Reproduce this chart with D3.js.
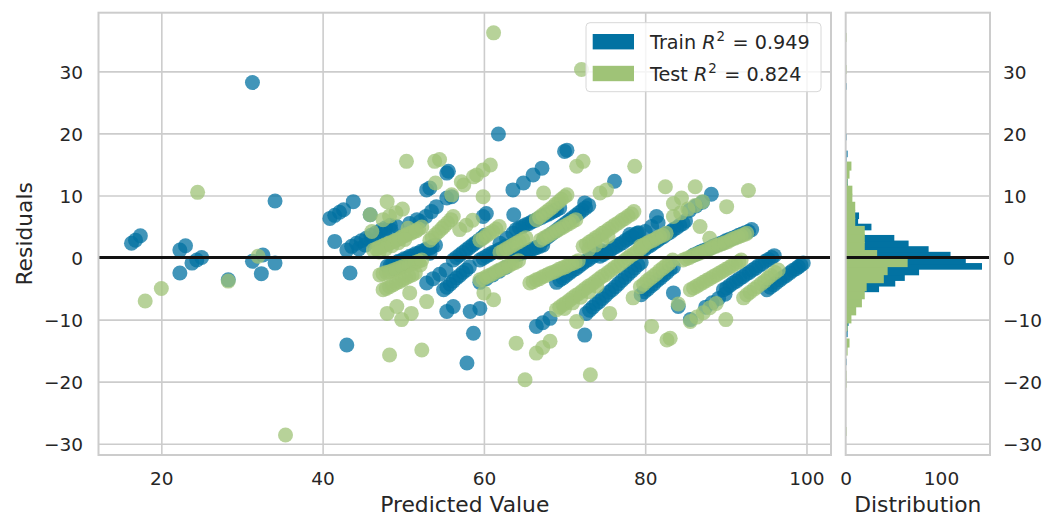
<!DOCTYPE html>
<html>
<head>
<meta charset="utf-8">
<script src="https://cdn.jsdelivr.net/npm/d3@7"></script>
<style>
  body { margin: 0; background: #fff; }
  text { font-family: "DejaVu Sans", sans-serif; fill: #262626; }
</style>
</head>
<body>
<div id="chart"></div>
<script>
// residuals: [predicted value, residual]
var trainPoints = [
  [16.3,2.3],[16.8,2.8],[17.4,3.5],
  [22.3,1.2],[23.0,1.9],[22.3,-2.5],[23.8,-0.9],[24.4,-0.4],[25.0,0.0],
  [28.3,-3.6],[31.3,28.2],[31.3,-0.6],[32.6,0.4],[32.4,-2.6],[34.1,-0.9],[34.1,9.1],
  [43.0,-14.1],[43.4,-2.5],[41.5,2.6],
  [40.9,6.3],[41.5,6.8],[42.1,7.3],[42.6,7.7],[43.8,9.0],
  [43.0,1.2],[43.6,1.8],[44.2,2.3],[44.8,2.7],[45.4,3.1],[46.0,3.6],[46.6,4.0],[47.2,4.4],[47.8,4.8],[48.4,5.2],
  [44.5,1.4],[45.3,2.0],[46.1,2.6],[46.9,3.2],[47.7,3.8],[48.5,4.4],[49.2,5.0],
  [45.9,6.9],
  [52.1,5.8],[52.8,6.6],[53.5,7.4],[54.1,8.2],
  [52.9,10.9],[53.3,11.2],[55.4,13.6],[55.6,13.9],[55.4,9.6],[56.0,9.8],
  [50.8,5.5],[51.7,6.1],
  [48.0,-1.4],[48.7,-1.0],[49.4,-0.6],[50.1,-0.2],[50.8,0.2],[51.5,0.6],[52.2,1.0],[52.9,1.4],[53.6,1.8],
  [48.4,-1.3],[49.1,-0.9],[49.8,-0.5],[50.5,-0.1],[51.2,0.3],[51.9,0.7],[52.6,1.1],[53.3,1.5],[54.0,2.0],
  [48.6,-1.8],[49.4,-1.3],[50.2,-0.8],[51.0,-0.4],
  [53.3,0.7],
  [52.9,-4.1],[53.7,-3.4],[54.5,-2.7],[55.3,-2.0],
  [55.0,-5.2],[55.8,-4.3],[56.6,-3.3],[57.4,-2.4],[58.2,-1.5],
  [55.4,-4.8],[56.2,-3.8],[57.0,-2.9],[57.8,-2.0],
  [55.4,-8.7],[56.2,-7.9],[58.3,-8.7],[58.7,-12.2],[57.9,-17.0],
  [56.2,-0.4],[57.0,0.4],[57.8,1.2],[58.6,2.0],[59.4,2.8],[60.1,3.6],
  [56.6,0.0],[57.4,0.8],[58.2,1.6],[59.0,2.4],[59.8,3.2],
  [59.9,6.6],[60.3,7.1],[63.7,6.9],
  [63.6,10.9],[64.9,12.0],[66.1,13.3],[67.2,14.4],
  [64.0,4.5],[64.8,5.0],[65.6,5.5],[66.4,6.0],[67.2,6.5],[68.0,7.0],[68.7,7.5],[69.4,8.0],
  [64.4,4.8],[65.2,5.3],[66.0,5.8],[66.8,6.3],[67.6,6.8],[68.4,7.3],[69.0,7.7],
  [67.4,2.8],[68.2,3.6],[69.0,4.4],[69.8,5.2],[70.6,6.0],[71.4,6.8],[72.2,7.6],[73.0,8.4],
  [67.8,3.2],[68.6,4.0],[69.4,4.8],[70.2,5.6],[71.0,6.4],[71.8,7.2],[72.6,8.0],
  [62.0,2.3],[62.8,3.1],[63.6,3.9],
  [59.5,-0.4],[60.3,0.2],[61.1,0.8],[61.9,1.3],[62.7,1.8],
  [59.9,-0.1],[60.7,0.5],[61.5,1.0],[62.3,1.5],
  [63.7,0.2],[64.5,0.6],[65.3,1.0],[66.1,1.4],[66.9,1.8],
  [64.1,0.4],[64.9,0.8],[65.7,1.2],[66.5,1.6],[67.3,2.0],
  [59.5,-4.0],[60.3,-3.4],[61.1,-2.8],[61.9,-2.2],[62.7,-1.6],
  [72.7,-9.0],[73.5,-8.0],[74.3,-7.1],[75.1,-6.1],[75.9,-5.2],[76.7,-4.2],[77.5,-3.2],[78.3,-2.2],[79.1,-1.2],
  [73.1,-8.5],[73.9,-7.5],[74.7,-6.6],[75.5,-5.6],[76.3,-4.7],[77.1,-3.7],[77.9,-2.7],[78.7,-1.7],[79.5,-0.8],
  [66.5,-11.1],[67.3,-10.5],[68.2,-9.8],[72.5,-12.5],
  [69.0,-4.0],[69.8,-3.3],[70.6,-2.5],[71.4,-1.8],[72.2,-1.0],[73.0,-0.3],[73.8,0.4],[74.6,1.1],
  [69.4,-3.6],[70.2,-2.9],[71.0,-2.1],[71.8,-1.4],[72.6,-0.6],[73.4,0.1],[74.2,0.8],
  [74.4,0.2],[75.2,0.8],[76.0,1.5],[76.8,2.1],[77.6,2.8],[78.4,3.4],[79.2,4.0],
  [74.8,0.5],[75.6,1.1],[76.4,1.8],[77.2,2.4],[78.0,3.1],[78.8,3.7],
  [78.1,3.7],[79.0,3.9],[72.5,8.8],[76.2,12.3],
  [70.0,17.1],[70.3,17.3],[61.8,19.9],
  [59.5,-8.2],
  [81.4,6.6],[88.2,10.2],
  [79.5,1.0],[80.3,1.7],[81.1,2.4],[81.9,3.1],[82.7,3.8],[83.5,4.5],[84.3,5.2],[85.0,5.9],
  [79.9,1.3],[80.7,2.0],[81.5,2.7],[82.3,3.4],[83.1,4.1],[83.9,4.8],[84.7,5.5],
  [80.0,4.2],[80.8,5.0],[81.6,5.6],
  [85.5,7.6],[86.3,8.3],[87.1,8.9],
  [86.0,0.4],[86.8,0.9],[87.6,1.3],[88.4,1.8],[89.2,2.2],[90.0,2.7],[90.8,3.1],[91.6,3.6],[92.4,4.0],[93.2,4.5],
  [86.4,0.6],[87.2,1.1],[88.0,1.5],[88.8,2.0],[89.6,2.4],[90.4,2.9],[91.2,3.3],[92.0,3.8],[92.8,4.2],
  [89.7,-5.2],[90.5,-4.5],[91.3,-3.8],[92.1,-3.1],[92.9,-2.4],[93.7,-1.7],[94.5,-1.0],[95.3,-0.3],[96.0,0.3],
  [90.1,-4.9],[90.9,-4.1],[91.7,-3.4],[92.5,-2.7],[93.3,-2.0],[94.1,-1.3],[94.9,-0.6],[95.7,0.0],
  [95.1,-5.2],[95.9,-4.4],[96.7,-3.6],[97.5,-2.9],[98.3,-2.1],[99.0,-1.5],[99.6,-0.9],
  [95.5,-4.8],[96.3,-4.0],[97.1,-3.2],[97.9,-2.5],[98.7,-1.8],[99.3,-1.2],
  [83.5,-5.7],[84.1,-7.9],[85.6,-10.0],
  [79.5,-6.0],[80.3,-5.1],[81.1,-4.2],[81.9,-3.3],[82.7,-2.4],[83.5,-1.5],
  [79.9,-5.5],[80.7,-4.6],[81.5,-3.7],[82.3,-2.8],[83.1,-1.9],
  [87.5,-8.0],[88.3,-7.3],[89.1,-6.6],[89.9,-5.9]
];

var testPoints = [
  [18.0,-7.0],[20.0,-5.0],[24.5,10.5],[28.3,-3.8],[32.0,0.2],[35.4,-28.6],[48.3,-15.7],[52.3,-14.9],
  [50.4,15.5],[53.9,15.5],[54.5,15.8],[54.0,12.0],[57.2,12.2],[59.1,13.3],[59.9,14.1],[60.8,14.9],
  [61.2,36.2],[72.1,30.3],
  [48.0,9.0],[45.9,6.9],[46.1,4.2],
  [47.5,6.1],[48.3,6.7],[49.1,7.2],[49.9,7.8],
  [46.3,1.2],[47.0,1.6],[47.7,2.0],[48.4,2.4],[49.1,2.8],[49.8,3.3],[50.5,3.7],[51.2,4.1],[51.9,4.6],[50.6,4.7],
  [46.7,1.4],[47.4,1.8],[48.1,2.2],[48.8,2.6],[49.5,3.0],[50.2,3.5],[50.9,3.9],[51.6,4.3],[52.3,4.9],
  [47.0,0.9],[47.8,1.4],[48.6,1.9],[49.4,2.4],[50.2,2.9],
  [53.3,2.8],[54.0,3.7],[54.8,4.7],[55.5,5.6],[56.2,6.6],
  [53.6,3.2],[54.4,4.2],[55.1,5.1],[55.9,6.1],
  [56.0,10.1],[57.5,11.7],[58.7,13.0],
  [52.1,-1.2],
  [47.1,-2.8],[47.9,-2.4],[48.7,-2.1],[49.5,-1.7],[50.3,-1.3],[51.1,-1.0],[51.9,-0.6],
  [47.5,-2.6],[48.3,-2.3],[49.1,-1.9],[49.9,-1.5],[50.7,-1.2],[51.5,-0.8],[52.3,-0.4],
  [47.5,-5.2],[48.3,-4.7],[49.1,-4.1],[49.9,-3.6],[50.7,-3.0],[51.5,-2.5],
  [47.9,-5.0],[48.7,-4.4],[49.5,-3.9],[50.3,-3.3],[51.1,-2.8],
  [50.8,-5.7],[52.9,-7.1],[48.0,-9.0],[49.2,-7.9],[49.8,-10.0],[51.0,-9.0],
  [57.0,4.5],[57.8,5.2],[58.6,6.0],
  [59.5,2.8],[60.3,3.5],[61.1,4.2],[61.9,5.0],
  [59.9,3.1],[60.7,3.9],[61.5,4.6],
  [62.0,0.8],[62.8,1.4],[63.6,2.0],[64.4,2.6],[65.2,3.2],
  [62.4,1.1],[63.2,1.7],[64.0,2.3],[64.8,2.9],
  [59.9,9.8],[67.4,10.4],
  [66.5,6.1],[67.3,6.9],[68.1,7.7],[68.9,8.6],[69.6,9.4],[70.3,10.1],
  [66.9,6.5],[67.7,7.3],[68.5,8.1],[69.3,9.0],[70.0,9.8],
  [67.0,2.8],[67.8,3.4],[68.6,4.0],[69.4,4.6],[70.2,5.2],[71.0,5.8],
  [67.4,3.1],[68.2,3.7],[69.0,4.3],[69.8,4.9],[70.6,5.5],[71.4,6.1],
  [72.3,1.8],[73.1,2.5],[73.9,3.2],[74.7,3.9],[75.5,4.6],[76.3,5.3],[77.1,6.0],[77.9,6.7],[78.6,7.4],
  [72.7,2.1],[73.5,2.8],[74.3,3.5],[75.1,4.2],[75.9,4.9],[76.7,5.6],[77.5,6.3],[78.3,7.0],
  [73.0,1.3],[73.8,2.0],[74.6,2.7],[75.4,3.4],
  [74.4,10.4],[75.2,10.9],[71.5,14.7],[72.3,15.5],[78.7,14.7],
  [65.7,-4.1],[66.5,-3.6],[67.3,-3.1],[68.1,-2.6],[68.9,-2.2],[69.7,-1.7],[70.5,-1.2],[71.3,-0.8],
  [66.1,-3.9],[66.9,-3.4],[67.7,-2.9],[68.5,-2.4],[69.3,-1.9],[70.1,-1.5],[70.9,-1.0],[71.7,-0.5],
  [59.5,-3.6],[60.3,-3.1],[61.1,-2.6],[61.9,-2.0],[62.7,-1.5],[63.5,-1.0],[64.3,-0.5],
  [59.9,-3.4],[60.7,-2.9],[61.5,-2.3],[62.3,-1.8],[63.1,-1.3],[63.9,-0.8],
  [69.0,-8.4],[69.8,-7.6],[70.6,-6.9],[71.4,-6.1],[72.2,-5.4],[73.0,-4.6],[73.8,-3.9],[74.6,-3.1],[75.4,-2.4],[76.2,-1.6],[77.0,-0.9],[77.8,-0.1],[78.6,0.6],[79.4,1.4],
  [69.4,-8.0],[70.2,-7.3],[71.0,-6.5],[71.8,-5.8],[72.6,-5.0],[73.4,-4.3],[74.2,-3.5],[75.0,-2.8],[75.8,-2.0],[76.6,-1.3],[77.4,-0.5],[78.2,0.3],[79.0,1.0],[79.8,1.8],
  [70.0,-8.2],[71.0,-7.3],[72.0,-6.4],[73.0,-5.5],[74.0,-4.6],
  [71.5,-10.3],[75.6,-9.0],[78.5,-6.5],[64.0,-13.8],[66.5,-15.4],[67.3,-14.5],[68.2,-13.5],[65.1,-19.7],[73.2,-18.9],[60.0,-5.7],[61.2,-6.8],
  [82.5,11.4],[86.2,11.4],[92.8,10.8],[90.1,8.2],[83.5,8.7],[84.5,9.6],
  [83.5,6.6],[84.4,7.2],[85.3,7.8],[86.2,8.4],[87.1,9.0],
  [86.8,5.0],[88.0,3.1],
  [79.4,1.8],[80.2,2.3],[81.0,2.8],[81.8,3.4],[82.6,3.9],
  [79.8,2.0],[80.6,2.6],[81.4,3.1],[82.2,3.6],
  [84.7,-0.4],[85.5,0.0],[86.3,0.5],[87.1,0.9],[87.9,1.3],[88.7,1.8],[89.5,2.2],[90.3,2.6],[91.1,3.1],[91.9,3.5],[92.6,3.9],
  [85.1,-0.2],[85.9,0.3],[86.7,0.7],[87.5,1.1],[88.3,1.6],[89.1,2.0],[89.9,2.4],[90.7,2.9],[91.5,3.3],[92.3,3.7],
  [92.2,-6.5],[93.0,-5.6],[93.9,-4.7],[94.8,-3.8],[95.6,-2.9],[96.5,-2.0],
  [92.6,-6.0],[93.5,-5.1],[94.4,-4.2],[95.2,-3.3],[96.1,-2.4],
  [85.6,-5.2],[86.4,-4.6],[87.2,-4.0],[88.0,-3.4],[88.8,-2.8],[89.6,-2.2],[90.4,-1.6],[91.2,-1.0],[91.9,-0.4],
  [86.0,-4.9],[86.8,-4.3],[87.6,-3.7],[88.4,-3.1],[89.2,-2.5],[90.0,-1.9],[90.8,-1.3],[91.6,-0.7],
  [85.6,-10.3],[86.4,-9.6],[87.2,-8.9],[88.0,-8.1],[88.8,-7.4],
  [80.8,-11.1],[82.7,-13.3],[83.1,-13.0],[90.0,-10.0],[84.1,-7.5],
  [79.4,-4.7],[80.2,-3.8],[81.0,-3.0],[81.8,-2.1],[82.6,-1.3],[83.4,-0.4],
  [79.8,-4.3],[80.6,-3.4],[81.4,-2.6],[82.2,-1.7],[83.0,-0.9]
];

// histogram: 50 bins over each residual range, counts
var trainHistLo = -17.2, trainHistHi = 28.1;
var trainHistCounts = [1,0,0,1,0,2,2,3,4,6, 8,11,15,35,52,62,77,143,126,110,
  87,66,51,17,27,13,14,8,6,4, 3,2,2,1,1,0,1,2,0,0, 1,0,0,0,0,0,0,0,0,1];
var testHistLo = -28.6, testHistHi = 36.2;
var testHistCounts = [1,0,0,0,0,0,1,1,0,0, 2,4,0,2,6,11,17,20,22,40,
  44,65,33,20,20,20,10,10,10,7, 7,2,4,6,0,0,0,0,0,0, 0,0,0,0,0,1,0,0,0,1];

var xTicks = [20, 40, 60, 80, 100];
var yTicks = [-30, -20, -10, 0, 10, 20, 30];
var histTicks = [0, 100];
var trainScore = "0.949", testScore = "0.824";

var trainColor = "#0272a2", testColor = "#9fc377";
var gridColor = "#cccccc";

var width = 1051, height = 518;
var main = {left: 98.5, right: 831, top: 12.7, bottom: 455};
var side = {left: 845.7, right: 990};

var svg = d3.select("#chart").append("svg")
  .attr("width", width)
  .attr("height", height);

var x = d3.scaleLinear().domain([12.21, 103.04]).range([main.left, main.right]);
var y = d3.scaleLinear().domain([-31.82, 39.45]).range([main.bottom, main.top]);
var hx = d3.scaleLinear().domain([0, 151.4]).range([side.left, side.right]);

var fmt = function(d) { return d < 0 ? "\u2212" + Math.abs(d) : String(d); };

function styleAxis(g) {
  g.select(".domain").remove();
  g.selectAll(".tick line").attr("stroke", gridColor).attr("stroke-width", 1.6);
  g.selectAll(".tick text").style("font-size", "18.5px").attr("fill", "#262626");
}

// main panel grid + ticks
svg.append("g")
  .attr("transform", "translate(0," + main.bottom + ")")
  .call(d3.axisBottom(x).tickValues(xTicks).tickFormat(fmt)
    .tickSize(-(main.bottom - main.top)).tickPadding(17))
  .call(styleAxis);

svg.append("g")
  .attr("transform", "translate(" + main.left + ",0)")
  .call(d3.axisLeft(y).tickValues(yTicks).tickFormat(fmt)
    .tickSize(-(main.right - main.left)).tickPadding(15.5))
  .call(styleAxis)
  .selectAll(".tick text").attr("dy", "0.36em");

// side panel grid + ticks
svg.append("g")
  .attr("transform", "translate(" + side.right + ",0)")
  .call(d3.axisRight(y).tickValues(yTicks).tickFormat(fmt)
    .tickSize(-(side.right - side.left)).tickPadding(13))
  .call(styleAxis)
  .selectAll(".tick text").attr("dy", "0.36em");

svg.append("g")
  .attr("transform", "translate(0," + main.bottom + ")")
  .call(d3.axisBottom(hx).tickValues(histTicks).tickSize(0).tickPadding(17))
  .call(styleAxis);

// scatter
var plot = svg.append("g");
plot.selectAll("circle.train")
  .data(trainPoints)
  .enter().append("circle")
  .attr("class", "train")
  .attr("cx", function(d) { return x(d[0]); })
  .attr("cy", function(d) { return y(d[1]); })
  .attr("r", 7.5)
  .attr("fill", trainColor)
  .attr("fill-opacity", 0.75);

plot.selectAll("circle.test")
  .data(testPoints)
  .enter().append("circle")
  .attr("class", "test")
  .attr("cx", function(d) { return x(d[0]); })
  .attr("cy", function(d) { return y(d[1]); })
  .attr("r", 7.5)
  .attr("fill", testColor)
  .attr("fill-opacity", 0.75);

// histograms, train underneath test; each bar overlaps the one below by 1px to hide seams
function drawHist(counts, lo, hi, color) {
  var w = (hi - lo) / counts.length;
  svg.append("g").selectAll("rect")
    .data(counts.map(function(c, i) { return {c: c, y0: lo + i * w, y1: lo + (i + 1) * w}; })
      .filter(function(d) { return d.c > 0; }))
    .enter().append("rect")
    .attr("x", hx(0))
    .attr("width", function(d) { return hx(d.c) - hx(0); })
    .attr("y", function(d) { return y(d.y1); })
    .attr("height", function(d) { return y(d.y0) - y(d.y1) + 1; })
    .attr("fill", color);
}
drawHist(trainHistCounts, trainHistLo, trainHistHi, trainColor);
drawHist(testHistCounts, testHistLo, testHistHi, testColor);

// zero lines
[[main.left, main.right], [side.left, side.right]].forEach(function(r) {
  svg.append("line")
    .attr("x1", r[0]).attr("x2", r[1])
    .attr("y1", y(0)).attr("y2", y(0))
    .attr("stroke", "#111111")
    .attr("stroke-width", 3);
});

// frames
[[main.left, main.right], [side.left, side.right]].forEach(function(r) {
  svg.append("rect")
    .attr("x", r[0]).attr("y", main.top)
    .attr("width", r[1] - r[0]).attr("height", main.bottom - main.top)
    .attr("fill", "none")
    .attr("stroke", gridColor)
    .attr("stroke-width", 2);
});

// legend
var legend = svg.append("g");
legend.append("rect")
  .attr("x", 586).attr("y", 22.7).attr("width", 235).attr("height", 69)
  .attr("rx", 4)
  .attr("fill", "#ffffff").attr("fill-opacity", 0.8)
  .attr("stroke", "#d8d8d8");

[["Train", trainScore, trainColor, 41.7], ["Test", testScore, testColor, 73.5]].forEach(function(e) {
  legend.append("rect")
    .attr("x", 592.7).attr("y", e[3] - 7.7)
    .attr("width", 41.3).attr("height", 15.4)
    .attr("fill", e[2]);
  var t = legend.append("text")
    .attr("x", 650).attr("y", e[3] + 7)
    .style("font-size", "19.2px");
  t.append("tspan").text(e[0] + " ");
  t.append("tspan").style("font-style", "italic").text("R");
  t.append("tspan").attr("dy", -7.8).attr("dx", 1).style("font-size", "13.4px").text("2");
  t.append("tspan").attr("dy", 7.8).attr("dx", 1.5).text(" = ");
  t.append("tspan").text(e[1]);
});

// axis labels
svg.append("text")
  .attr("x", (main.left + main.right) / 2).attr("y", 512)
  .attr("text-anchor", "middle")
  .style("font-size", "21.8px")
  .text("Predicted Value");

svg.append("text")
  .attr("transform", "translate(32," + ((main.top + main.bottom) / 2) + ")rotate(-90)")
  .attr("text-anchor", "middle")
  .style("font-size", "21.8px")
  .text("Residuals");

svg.append("text")
  .attr("x", (side.left + side.right) / 2).attr("y", 512)
  .attr("text-anchor", "middle")
  .style("font-size", "21.8px")
  .text("Distribution");
</script>
</body>
</html>
